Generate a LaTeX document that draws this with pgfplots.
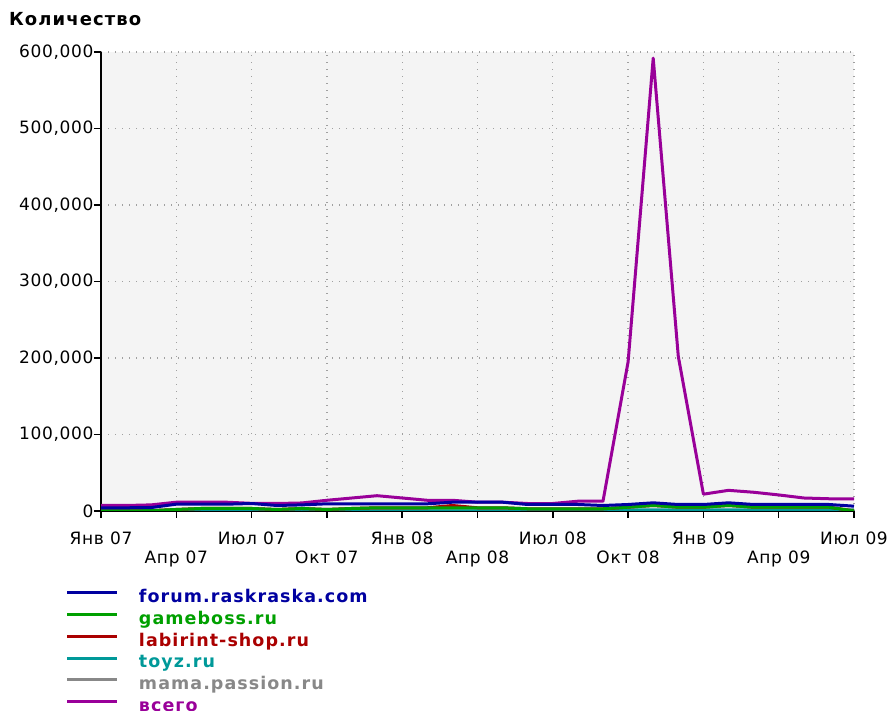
\documentclass[border=0pt]{standalone}
\usepackage{fontspec}
\setmainfont{DejaVu Sans}
\newfontfamily\legfont[LetterSpace=6]{DejaVu Sans Bold}
\newfontfamily\tickfont[LetterSpace=4]{DejaVu Sans}
\usepackage{pgfplots}
\pgfplotsset{compat=1.18}
\usepackage{pgfplotstable}
\definecolor{cforum}{RGB}{0,0,160}
\definecolor{cgame}{RGB}{0,160,0}
\definecolor{clab}{RGB}{170,0,0}
\definecolor{ctoyz}{RGB}{0,153,153}
\definecolor{cmama}{RGB}{136,136,136}
\definecolor{call}{RGB}{153,0,153}
\definecolor{bgc}{RGB}{244,244,244}
\definecolor{gridc}{RGB}{160,160,160}
\pgfplotstableread{
m all forum game lab toyz mama
0 7200 4200 0 0 0 0
1 7200 4200 0 0 0 0
2 8000 4500 500 500 0 0
3 11500 8900 2000 2000 0 0
4 11500 8900 3300 3300 0 0
5 11500 8900 3300 3300 0 0
6 10000 9800 3300 3300 0 0
7 9800 7200 2000 2000 0 0
8 10500 8000 3300 3300 0 0
9 14000 9400 2000 2000 0 0
10 17000 9400 3300 3300 0 0
11 20000 9400 4200 4200 0 0
12 17000 9400 4200 4200 0 0
13 14000 9400 4200 4200 0 0
14 14000 11500 4200 7200 0 0
15 11500 11500 4200 4200 0 0
16 11500 11500 4200 4200 0 0
17 9800 8500 2900 2900 0 0
18 9800 8500 2900 2900 0 0
19 12800 8500 2900 2900 0 0
20 12800 7200 2900 2900 0 0
21 195000 8500 5000 5000 1500 0
22 592000 10700 7200 7200 1500 0
23 202000 8500 5000 5000 1500 0
24 22000 8500 5000 5000 1500 0
25 27000 10700 7200 7200 1500 0
26 24500 8500 5000 5000 1500 0
27 21000 8500 5000 5000 1500 0
28 17000 8500 5000 5000 1500 0
29 16000 8500 5000 5000 1500 500
30 16000 6300 0 0 1000 1500
}\data
\begin{document}
\begin{tikzpicture}
\useasboundingbox (0,0) rectangle (888pt,711pt);
\begin{axis}[
 at={(101pt,200pt)}, anchor=south west, scale only axis,
 width=753pt, height=459pt,
 xmin=0, xmax=30, ymin=0, ymax=600000,
 scaled y ticks=false,
 axis background/.style={fill=bgc},
 axis x line*=bottom, axis y line*=left,
 axis line style={black, line width=2.5pt, -},
 tick align=outside, major tick length=7pt,
 tick style={black, line width=1.5pt},
 xtick={0,6,...,30},
 xticklabels={Янв 07,Июл 07,Янв 08,Июл 08,Янв 09,Июл 09},
 xticklabel style={yshift=-10pt},
 extra x ticks={3,9,15,21,27},
 extra x tick labels={Апр 07,Окт 07,Апр 08,Окт 08,Апр 09},
 extra x tick style={grid=major, xticklabel style={yshift=-19pt}},
 ytick={0,100000,200000,300000,400000,500000,600000},
 yticklabels={0,{100,000},{200,000},{300,000},{400,000},{500,000},{600,000}},
 yticklabel style={xshift=3pt},
 grid=major,
 major grid style={gridc, line width=1.3pt, dash pattern=on 1.3pt off 5.7pt},
 ticklabel style={font=\tickfont\fontsize{17}{20}\selectfont},
 reverse legend,
 legend cell align=left,
 legend style={at={(axis description cs:-0.0465,-0.168)}, anchor=north west,
   draw=none, fill=none, inner sep=0pt, outer sep=0pt, column sep=20pt, row sep=0pt,
   nodes={inner sep=0pt, text height=14.6pt, text depth=7.1pt,
     font=\legfont\fontsize{17.5}{20}\selectfont}},
 legend image code/.code={\draw[#1, line width=3pt] (0pt,6pt) -- (50pt,6pt);},
 every axis plot/.append style={line width=3pt, line join=round},
]
\addplot[call] table[x=m, y=all] {\data};
\addlegendentry{\textcolor{call}{всего}}
\addplot[cmama] table[x=m, y=mama] {\data};
\addlegendentry{\textcolor{cmama}{mama.passion.ru}}
\addplot[ctoyz] table[x=m, y=toyz] {\data};
\addlegendentry{\textcolor{ctoyz}{toyz.ru}}
\addplot[clab] table[x=m, y=lab] {\data};
\addlegendentry{\textcolor{clab}{labirint-shop.ru}}
\addplot[cgame] table[x=m, y=game] {\data};
\addlegendentry{\textcolor{cgame}{gameboss.ru}}
\addplot[cforum] table[x=m, y=forum] {\data};
\addlegendentry{\textcolor{cforum}{forum.raskraska.com}}
\end{axis}
\node[anchor=west, inner sep=0pt, font=\legfont\fontsize{18}{20}\selectfont] at (9pt,692pt) {Количество};
\end{tikzpicture}
\end{document}
